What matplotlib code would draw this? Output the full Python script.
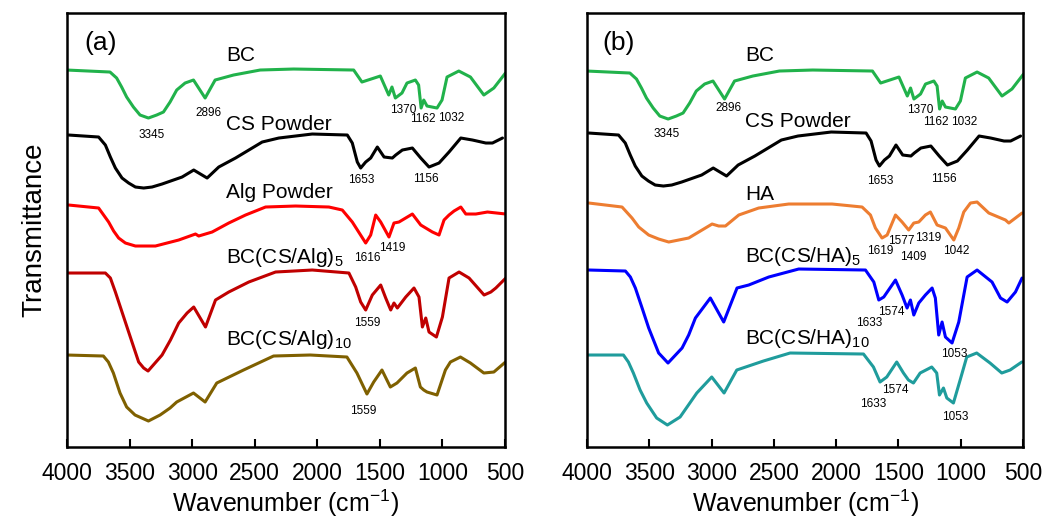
import matplotlib
matplotlib.use("Agg")
import matplotlib.pyplot as plt

plt.rcParams['font.family'] = ['Liberation Sans', 'DejaVu Sans']
plt.rcParams['mathtext.fontset'] = 'custom'
plt.rcParams['mathtext.rm'] = 'Liberation Sans'
plt.rcParams['mathtext.it'] = 'Liberation Sans'
plt.rcParams['mathtext.default'] = 'regular'

# spectra: wavenumber (cm-1) and offset transmittance (a.u.)
bc_wn = [4003, 3656, 3603, 3563, 3523, 3469, 3416, 3349, 3283, 3229, 3176, 3123, 3056, 2989, 2896, 2816,
         2669, 2456, 2189, 1709, 1643, 1496, 1429, 1403, 1376, 1323, 1283, 1216, 1190, 1170, 1149, 1123,
         1043, 1003, 963, 869, 776, 669, 589, 496]
bc_t = [377, 375, 369, 360, 350, 340, 332, 329, 332, 335, 345, 357, 364, 367, 349, 367,
        372, 377, 378, 377, 365, 371, 352, 360, 349, 354, 364, 367, 362, 339, 347, 341,
        339, 347, 370, 376, 370, 352, 359, 374]

cs_wn = [3987, 3747, 3693, 3653, 3613, 3560, 3507, 3453, 3387, 3320, 3240, 3080, 2987, 2947, 2880, 2787,
         2653, 2440, 2307, 2040, 1760, 1720, 1680, 1653, 1613, 1573, 1520, 1466, 1400, 1373, 1320, 1240,
         1173, 1107, 1027, 947, 853, 760, 653, 600, 520]
cs_t = [312, 310, 302, 290, 279, 269, 264, 260, 259, 260, 263, 270, 277, 274, 269, 280,
        289, 305, 309, 313, 312, 304, 285, 279, 285, 289, 300, 290, 289, 292, 297, 299,
        289, 280, 284, 295, 309, 307, 304, 304, 309]

alg_wn = [3987, 3747, 3667, 3627, 3587, 3533, 3453, 3293, 3107, 2973, 2947, 2840, 2707, 2573, 2413, 2173,
          1907, 1800, 1720, 1613, 1573, 1533, 1493, 1427, 1387, 1347, 1240, 1173, 1080, 1027, 987, 947,
          907, 853, 813, 733, 640, 493]
alg_t = [242, 239, 225, 216, 209, 204, 201, 201, 207, 213, 211, 215, 224, 232, 240, 241,
         240, 237, 225, 204, 212, 232, 225, 210, 224, 225, 233, 222, 215, 212, 227, 232,
         236, 240, 233, 233, 235, 233]

alg5_wn = [3987, 3693, 3653, 3613, 3560, 3507, 3427, 3387, 3352, 3240, 3173, 3107, 3040, 2987, 2893, 2813,
           2707, 2547, 2333, 2040, 1747, 1693, 1653, 1613, 1560, 1493, 1453, 1413, 1387, 1360, 1293, 1227,
           1187, 1160, 1133, 1107, 1048, 1000, 947, 867, 787, 667, 613, 573, 493]
alg5_t = [174, 174, 169, 155, 135, 115, 85, 79, 76, 92, 107, 124, 134, 140, 120, 147,
          155, 165, 175, 177, 174, 160, 145, 137, 152, 162, 149, 137, 144, 139, 150, 159,
          150, 120, 129, 115, 110, 130, 169, 175, 169, 152, 155, 159, 169]

alg10_wn = [4003, 3709, 3669, 3629, 3576, 3523, 3456, 3349, 3256, 3176, 3123, 2989, 2896, 2803, 2589, 2349,
            2056, 1763, 1683, 1603, 1549, 1483, 1416, 1363, 1283, 1216, 1176, 1149, 1123, 1043, 976, 936,
            856, 776, 669, 589, 496]
alg10_t = [92, 91, 85, 74, 54, 40, 32, 26, 32, 39, 45, 54, 45, 64, 77, 91,
           92, 90, 74, 53, 65, 77, 60, 64, 74, 79, 60, 57, 55, 52, 77, 85,
           90, 84, 74, 75, 85]

ha_wn = [3986, 3719, 3639, 3585, 3505, 3425, 3344, 3184, 2996, 2943, 2889, 2782, 2622, 2381, 2033, 1792,
         1725, 1685, 1632, 1591, 1524, 1471, 1418, 1377, 1337, 1284, 1244, 1190, 1123, 1056, 1016, 976,
         922, 869, 775, 641, 614, 508]
ha_t = [244, 240, 229, 220, 212, 208, 205, 209, 223, 221, 221, 232, 239, 243, 243, 240,
        232, 219, 209, 212, 232, 225, 217, 224, 225, 232, 235, 222, 219, 207, 219, 235,
        244, 245, 234, 227, 224, 234]

ha5_wn = [3986, 3692, 3652, 3612, 3558, 3505, 3425, 3350, 3237, 3184, 3130, 3010, 2903, 2796, 2702, 2541,
          2301, 1765, 1698, 1658, 1618, 1524, 1471, 1431, 1404, 1377, 1337, 1284, 1230, 1204, 1177, 1150,
          1123, 1070, 1016, 949, 869, 749, 681, 628, 561, 508]
ha5_t = [177, 176, 170, 159, 139, 119, 94, 84, 99, 112, 129, 149, 125, 159, 162, 170,
         178, 177, 165, 147, 150, 167, 152, 139, 147, 132, 144, 152, 159, 149, 112, 125,
         110, 104, 125, 170, 177, 165, 149, 145, 155, 169]

ha10_wn = [4002, 3708, 3668, 3628, 3574, 3521, 3441, 3355, 3253, 3186, 3119, 2999, 2900, 2798, 2584, 2370,
           1781, 1701, 1648, 1594, 1514, 1460, 1420, 1380, 1326, 1233, 1193, 1171, 1139, 1112, 1059, 1005,
           952, 872, 765, 671, 604, 510]
ha10_t = [92, 92, 85, 74, 57, 44, 29, 22, 30, 42, 54, 70, 54, 77, 86, 94,
          93, 80, 65, 70, 85, 74, 67, 64, 74, 80, 74, 52, 59, 49, 44, 67,
          90, 94, 84, 74, 77, 85]

# series names, label anchors (T of baseline)
names_a = ['BC', 'CS Powder', 'Alg Powder', 'BC(CS/Alg)$_5$', 'BC(CS/Alg)$_{10}$']
name_t_a = [386, 317, 249, 184, 102]
names_b = ['BC', 'CS Powder', 'HA', 'BC(CS/HA)$_5$', 'BC(CS/HA)$_{10}$']
name_t_b = [386, 320, 247, 185, 103]

# peak labels: text, wavenumber, T (centre)
peaks_a = [('3345', 3320, 312), ('2896', 2872, 334), ('1370', 1312, 337), ('1162', 1160, 328),
           ('1032', 928, 329), ('1653', 1648, 267), ('1156', 1136, 268), ('1616', 1600, 189),
           ('1419', 1400, 199), ('1559', 1600, 124), ('1559', 1632, 36)]
peaks_b = [('3345', 3358, 313), ('2896', 2868, 339), ('1370', 1326, 337), ('1162', 1198, 325),
           ('1032', 973, 325), ('1653', 1647, 266), ('1156', 1133, 268), ('1619', 1647, 196),
           ('1577', 1479, 206), ('1409', 1382, 190), ('1319', 1262, 209), ('1042', 1037, 196),
           ('1574', 1559, 135), ('1633', 1735, 124), ('1053', 1053, 93), ('1574', 1527, 57),
           ('1633', 1703, 43), ('1053', 1045, 30)]

fig = plt.figure(figsize=(10.56, 5.23), dpi=100)
ax_a = fig.add_axes([0.0634, 0.1453, 0.4148, 0.8298])
ax_b = fig.add_axes([0.5559, 0.1453, 0.4129, 0.8298])

lw = 2.2
kw = dict(lw=lw, solid_joinstyle='round', solid_capstyle='round')
ax_a.plot(bc_wn, bc_t, color='#21b24b', **kw)
ax_a.plot(cs_wn, cs_t, color='black', **kw)
ax_a.plot(alg_wn, alg_t, color='#ff0000', **kw)
ax_a.plot(alg5_wn, alg5_t, color='#c00000', **kw)
ax_a.plot(alg10_wn, alg10_t, color='#7f6000', **kw)

ax_b.plot(bc_wn, [t - 1 for t in bc_t], color='#21b24b', **kw)
ax_b.plot(cs_wn, [t + 2 for t in cs_t], color='black', **kw)
ax_b.plot(ha_wn, ha_t, color='#ed7d31', **kw)
ax_b.plot(ha5_wn, ha5_t, color='#0000ff', **kw)
ax_b.plot(ha10_wn, ha10_t, color='#1f9c9c', **kw)

for ax, tag, names, name_t, peaks, tag_x in [(ax_a, '(a)', names_a, name_t_a, peaks_a, 3728),
                                             (ax_b, '(b)', names_b, name_t_b, peaks_b, 3743)]:
    ax.set_xlim(4000, 500)
    ax.set_ylim(0, 434)
    ax.set_xticks([4000, 3500, 3000, 2500, 2000, 1500, 1000, 500])
    ax.set_yticks([])
    ax.tick_params(axis='x', direction='in', length=6, width=1.5, labelsize=16.5, pad=11)
    for s in ax.spines.values():
        s.set_linewidth(1.8)
    ax.text(tag_x, 404, tag, fontsize=19, ha='center', va='center')
    for name, t in zip(names, name_t):
        ax.text(2730, t, name, fontsize=15, ha='left', va='baseline')
    for txt, wn, t in peaks:
        ax.text(wn, t, txt, fontsize=8.5, ha='center', va='center')
    ax.set_xlabel('Wavenumber (cm$^{-1}$)', fontsize=18, labelpad=2)

ax_a.set_ylabel('Transmittance', fontsize=20, labelpad=14)

fig.savefig('out.png', dpi=100)
